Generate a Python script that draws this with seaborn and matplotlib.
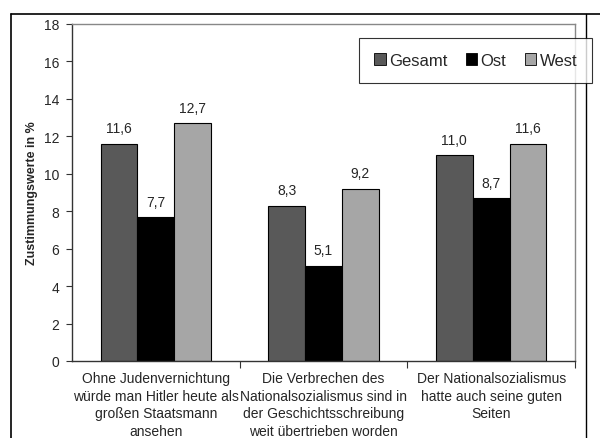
import pandas as pd
import matplotlib.pyplot as plt
import seaborn as sns
from matplotlib.lines import Line2D

# data
aussagen = ['Ohne Judenvernichtung\nwürde man Hitler heute als\ngroßen Staatsmann\nansehen',
            'Die Verbrechen des\nNationalsozialismus sind in\nder Geschichtsschreibung\nweit übertrieben worden',
            'Der Nationalsozialismus\nhatte auch seine guten\nSeiten']
gruppen = ['Gesamt', 'Ost', 'West']
gesamt = [11.6, 8.3, 11.0]
ost = [7.7, 5.1, 8.7]
west = [12.7, 9.2, 11.6]

df = pd.DataFrame({
    'aussage': aussagen * 3,
    'gruppe': ['Gesamt'] * 3 + ['Ost'] * 3 + ['West'] * 3,
    'wert': gesamt + ost + west,
})

sns.set_style('white')
plt.rcParams['font.family'] = ['Liberation Sans', 'DejaVu Sans']

fig = plt.figure(figsize=(6, 4.39), dpi=100)
ax = fig.add_axes([72/600, 1 - 362/439, (575-72)/600, (362-25)/439])

farben = {'Gesamt': '#595959', 'Ost': '#000000', 'West': '#a6a6a6'}
sns.barplot(data=df, x='aussage', y='wert', hue='gruppe', palette=farben,
            width=0.66, edgecolor='black', linewidth=0.8, saturation=1, ax=ax)

for cont in ax.containers:
    ax.bar_label(cont, labels=[f'{v:.1f}'.replace('.', ',') for v in cont.datavalues],
                 padding=6, fontsize=10)

ax.set_ylim(0, 18)
ax.set_yticks(range(0, 19, 2))
ax.set_xlim(-0.5, 2.5)
ax.tick_params(axis='y', labelsize=10, length=4, width=0.8, color='#333333', left=True, pad=5)
ax.tick_params(axis='x', which='major', length=0, labelsize=10, pad=7)
for t in ax.get_xticklabels():
    t.set_linespacing(1.35)
ax.set_xticks([0.5, 1.5, 2.5], minor=True)
ax.tick_params(axis='x', which='minor', length=5, width=0.8, color='#333333', bottom=True)
ax.set_xlabel('')
ax.set_ylabel('Zustimmungswerte in %', fontsize=9, fontweight='bold', labelpad=4)

for s in ['top', 'right']:
    ax.spines[s].set_color('#888888')
    ax.spines[s].set_linewidth(1)
for s in ['left', 'bottom']:
    ax.spines[s].set_color('#333333')
    ax.spines[s].set_linewidth(1)

ax.get_legend().remove()
handles = [plt.Rectangle((0, 0), 1, 1, facecolor=farben[g], edgecolor='black', linewidth=0.6)
           for g in gruppen]
leg = fig.legend(handles, gruppen, loc='upper left', bbox_to_anchor=(359/600, 1 - 39/439),
                 ncol=3, frameon=True, fancybox=False, edgecolor='black', fontsize=12,
                 handlelength=0.7, handleheight=0.7, handletextpad=0.2, columnspacing=1.1,
                 borderpad=0.9, borderaxespad=0)
leg.get_frame().set_linewidth(0.8)

# outer chart frame (cut off at the bottom)
fig.add_artist(Line2D([11/600, 1], [1 - 15/439] * 2, color='black', lw=1.2))
fig.add_artist(Line2D([11/600] * 2, [0, 1 - 15/439], color='black', lw=1.2))
fig.add_artist(Line2D([586/600] * 2, [0, 1 - 15/439], color='black', lw=1.0))

fig.savefig('out.png', dpi=100)
